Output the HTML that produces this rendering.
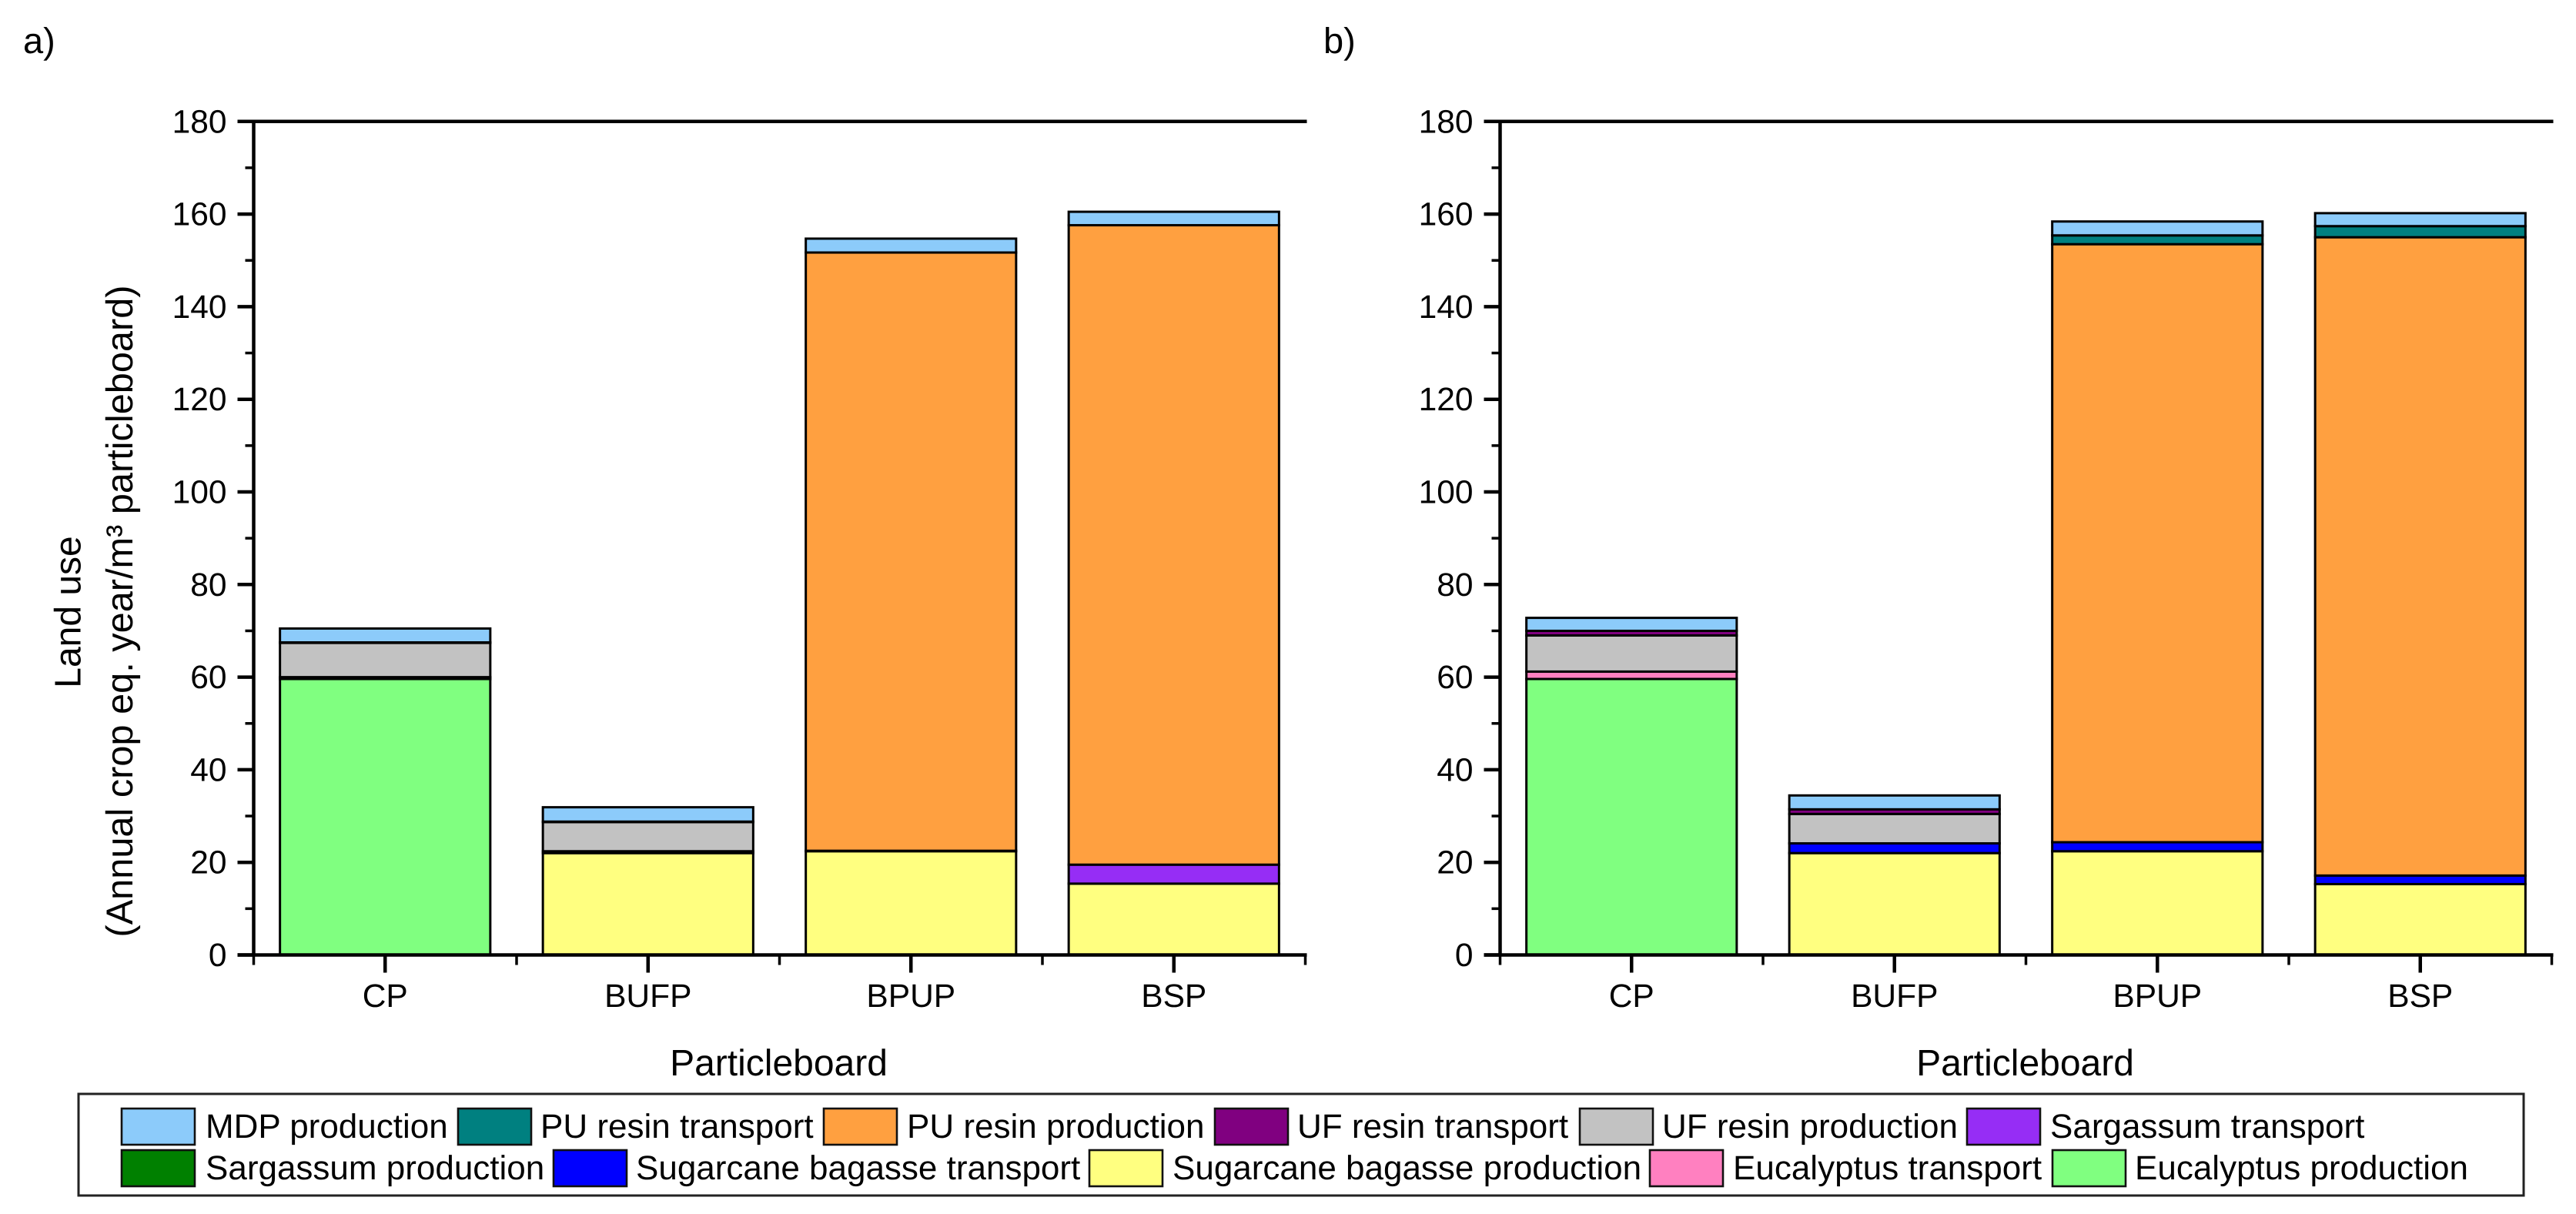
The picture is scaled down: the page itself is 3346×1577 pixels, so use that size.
<!DOCTYPE html>
<html lang="en">
<head>
<meta charset="utf-8">
<title>Land use by particleboard type</title>
<style>
  html, body { margin: 0; padding: 0; background: #fff; }
  svg { display: block; font-family: "Liberation Sans", Arial, sans-serif; fill: #000; text-rendering: geometricPrecision; }
  .axis { stroke: #000; stroke-width: 4.5; fill: none; }
  .tick { stroke: #000; stroke-width: 4.5; }
  .tick-minor { stroke: #000; stroke-width: 3.5; }
  .seg { stroke: #000; stroke-width: 3; }
  .tick-label { font-size: 42.5px; }
  .title { font-size: 48px; }
  .title-long { font-size: 48.7px; }
  .panel-label { font-size: 47px; }
  .legend-text { font-size: 44px; }
  .legend-frame { fill: #fff; stroke: #222; stroke-width: 3; }
  .swatch { stroke: #111; stroke-width: 2.6; }
  .s-euc-prod { fill: #80ff80; }
  .s-euc-tran { fill: #ff80c0; }
  .s-sug-prod { fill: #ffff80; }
  .s-sug-tran { fill: #0000ff; }
  .s-sar-prod { fill: #008000; }
  .s-sar-tran { fill: #962df5; }
  .s-uf-prod  { fill: #c2c2c2; }
  .s-uf-tran  { fill: #800080; }
  .s-pu-prod  { fill: #ffa040; }
  .s-pu-tran  { fill: #008080; }
  .s-mdp      { fill: #8ccbfa; }
</style>
</head>
<body>
<svg id="figure" xmlns="http://www.w3.org/2000/svg" width="3346" height="1577" viewBox="0 0 3346 1577">
  <rect x="0" y="0" width="3346" height="1577" fill="#fff"/>

  <text class="panel-label" x="30" y="69">a)</text>
  <text class="panel-label" x="1719" y="69">b)</text>

  <g id="panel-a"></g>
  <g id="panel-b"></g>

  <text class="title" text-anchor="middle" transform="translate(104.5 795) rotate(-90)">Land use</text>
  <text class="title-long" text-anchor="middle" transform="translate(172 794) rotate(-90)">(Annual crop eq. year/m³ particleboard)</text>

  <g>
    <rect class="legend-frame" x="102" y="1421" width="3176" height="132"/>

    <rect class="swatch s-mdp" x="158" y="1440" width="95" height="47"/>
    <text class="legend-text" x="267" y="1478">MDP production</text>

    <rect class="swatch s-pu-tran" x="595" y="1440" width="95" height="47"/>
    <text class="legend-text" x="702" y="1478">PU resin transport</text>

    <rect class="swatch s-pu-prod" x="1070" y="1440" width="95" height="47"/>
    <text class="legend-text" x="1178" y="1478">PU resin production</text>

    <rect class="swatch s-uf-tran" x="1578" y="1440" width="95" height="47"/>
    <text class="legend-text" x="1685" y="1478">UF resin transport</text>

    <rect class="swatch s-uf-prod" x="2052" y="1440" width="95" height="47"/>
    <text class="legend-text" x="2159" y="1478">UF resin production</text>

    <rect class="swatch s-sar-tran" x="2555" y="1440" width="95" height="47"/>
    <text class="legend-text" x="2663" y="1478">Sargassum transport</text>

    <rect class="swatch s-sar-prod" x="158" y="1494" width="95" height="47"/>
    <text class="legend-text" x="267" y="1532">Sargassum production</text>

    <rect class="swatch s-sug-tran" x="719" y="1494" width="95" height="47"/>
    <text class="legend-text" x="826" y="1532">Sugarcane bagasse transport</text>

    <rect class="swatch s-sug-prod" x="1415" y="1494" width="95" height="47"/>
    <text class="legend-text" x="1523" y="1532">Sugarcane bagasse production</text>

    <rect class="swatch s-euc-tran" x="2143" y="1494" width="95" height="47"/>
    <text class="legend-text" x="2251" y="1532">Eucalyptus transport</text>

    <rect class="swatch s-euc-prod" x="2666" y="1494" width="95" height="47"/>
    <text class="legend-text" x="2773" y="1532">Eucalyptus production</text>
  </g>
</svg>

<script>
// Shared chart categories and axis tick labels
const categories = ['CP', 'BUFP', 'BPUP', 'BSP'];
const yTickLabels = [0, 20, 40, 60, 80, 100, 120, 140, 160, 180];
const yMinorTicks = [10, 30, 50, 70, 90, 110, 130, 150, 170];
const xAxisTitle = 'Particleboard';

// Stacking order, bottom to top
const seriesKeys = ['euc-prod', 'euc-tran', 'sug-prod', 'sug-tran', 'sar-prod', 'sar-tran', 'uf-prod', 'uf-tran', 'pu-prod', 'pu-tran', 'mdp'];

// Panel a values, one per category
const aEucProd = [59.6, 0, 0, 0];
const aEucTran = [0.4, 0, 0, 0];
const aSugProd = [0, 22.0, 22.4, 15.4];
const aSugTran = [0, 0.4, 0.1, 0];
const aSarProd = [0, 0, 0, 0];
const aSarTran = [0, 0, 0, 4.1];
const aUfProd = [7.4, 6.3, 0, 0];
const aUfTran = [0.1, 0.1, 0, 0];
const aPuProd = [0, 0, 129.2, 138.1];
const aPuTran = [0, 0, 0, 0];
const aMdp = [3.0, 3.1, 3.0, 2.9];

// Panel b values, one per category
const bEucProd = [59.6, 0, 0, 0];
const bEucTran = [1.6, 0, 0, 0];
const bSugProd = [0, 22.0, 22.4, 15.3];
const bSugTran = [0, 2.1, 1.95, 1.85];
const bSarProd = [0, 0, 0, 0];
const bSarTran = [0, 0, 0, 0];
const bUfProd = [7.8, 6.35, 0, 0];
const bUfTran = [1.0, 1.0, 0, 0];
const bPuProd = [0, 0, 129.15, 137.85];
const bPuTran = [0, 0, 1.9, 2.4];
const bMdp = [2.8, 3.0, 3.0, 2.8];

const panelASeries = [aEucProd, aEucTran, aSugProd, aSugTran, aSarProd, aSarTran, aUfProd, aUfTran, aPuProd, aPuTran, aMdp];
const panelBSeries = [bEucProd, bEucTran, bSugProd, bSugTran, bSarProd, bSarTran, bUfProd, bUfTran, bPuProd, bPuTran, bMdp];

const SVG_NS = 'http://www.w3.org/2000/svg';
const PLOT_TOP = 157.8;
const PLOT_BOTTOM = 1240.5;
const Y_MAX = 180;
const PLOT_WIDTH = 1366;
const BAR_FRACTION = 0.8;

function yScale(v) {
  return PLOT_BOTTOM - (v / Y_MAX) * (PLOT_BOTTOM - PLOT_TOP);
}

function make(parent, tag, attrs) {
  const el = document.createElementNS(SVG_NS, tag);
  for (const k in attrs) el.setAttribute(k, attrs[k]);
  parent.appendChild(el);
  return el;
}

function drawPanel(root, prefix, left, series) {
  const pitch = PLOT_WIDTH / categories.length;
  const xBand = i => left + pitch * i;
  const xCenter = i => xBand(i) + pitch / 2;
  const barWidth = pitch * BAR_FRACTION;

  // Stacked bars
  categories.forEach((cat, c) => {
    let base = 0;
    series.forEach((values, s) => {
      const v = values[c];
      if (!v) return;
      const yTop = yScale(base + v);
      const yBot = yScale(base);
      const seg = make(root, 'rect', {
        class: 'seg s-' + seriesKeys[s],
        x: xCenter(c) - barWidth / 2,
        y: yTop,
        width: barWidth,
        height: yBot - yTop
      });
      
      
      base += v;
    });
  });

  // Axis lines
  const right = left + PLOT_WIDTH;
  const yAxis = make(root, 'line', { class: 'axis', x1: left, x2: left, y1: PLOT_TOP - 2, y2: PLOT_BOTTOM + 2 });
  
  
  const xAxis = make(root, 'line', { class: 'axis', x1: left - 21, x2: right + 2, y1: PLOT_BOTTOM, y2: PLOT_BOTTOM });
  
  
  const topAxis = make(root, 'line', { class: 'axis', x1: left - 21, x2: right + 2, y1: PLOT_TOP, y2: PLOT_TOP });
  
  

  // Y ticks and labels
  yTickLabels.forEach(v => {
    const tick = make(root, 'line', { class: 'tick', x1: left - 21, x2: left, y1: yScale(v), y2: yScale(v) });
    
    
    const label = make(root, 'text', { class: 'tick-label', 'text-anchor': 'end', x: left - 35, y: yScale(v) + 14.5 });
    label.textContent = String(v);
    
    
  });
  yMinorTicks.forEach(v => {
    const tick = make(root, 'line', { class: 'tick-minor', x1: left - 11, x2: left, y1: yScale(v), y2: yScale(v) });
    
    
  });

  // X ticks and labels
  categories.forEach((cat, c) => {
    const tick = make(root, 'line', { class: 'tick', x1: xCenter(c), x2: xCenter(c), y1: PLOT_BOTTOM, y2: PLOT_BOTTOM + 23 });
    
    
    const label = make(root, 'text', { class: 'tick-label', 'text-anchor': 'middle', x: xCenter(c), y: 1308 });
    label.textContent = cat;
    
    
  });
  for (let i = 0; i <= categories.length; i++) {
    const tick = make(root, 'line', { class: 'tick-minor', x1: xBand(i), x2: xBand(i), y1: PLOT_BOTTOM, y2: PLOT_BOTTOM + 13 });
    
    
  }

  // X axis title
  const xTitle = make(root, 'text', { class: 'title', 'text-anchor': 'middle', x: left + PLOT_WIDTH / 2 - 1, y: 1397 });
  xTitle.textContent = xAxisTitle;
  
  
}

drawPanel(document.getElementById('panel-a'), 'panel-a', 329.5, panelASeries);
drawPanel(document.getElementById('panel-b'), 'panel-b', 1948.5, panelBSeries);
</script>
</body>
</html>
